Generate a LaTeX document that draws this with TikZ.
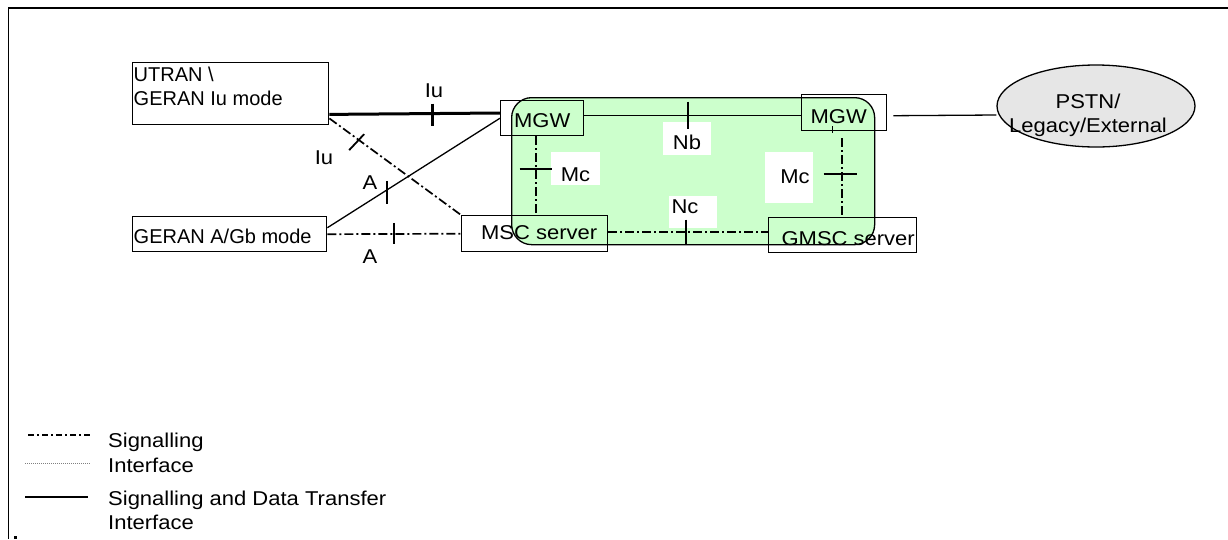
\documentclass[tikz,border=0pt]{standalone}
\usepackage{fontspec}
\setmainfont{Liberation Sans}[FakeStretch=1.1]
\newfontfamily\plainfont{Liberation Sans}
\usetikzlibrary{shapes.geometric,calc}
\definecolor{corefill}{HTML}{CCFFCC}
\definecolor{pstnfill}{HTML}{E6E6E6}
\tikzset{
  box/.style={draw, line width=1.4pt, rectangle, inner sep=0pt},
  sig/.style={line width=1.7pt, dash pattern=on 9pt off 3pt on 2pt off 3pt},
  legsig/.style={line width=1.1pt, dash pattern=on 6pt off 3pt on 2pt off 3pt},
  data/.style={line width=1.3pt},
  thickdata/.style={line width=3pt},
  tickmark/.style={line width=1.8pt},
  lbl/.style={inner sep=0pt},
  lblbox/.style={fill=white, inner sep=0pt},
}
\begin{document}
\begin{tikzpicture}[x=1pt,y=-1pt, every node/.append style={font=\fontsize{20}{24}\selectfont}]
\useasboundingbox (0,0) rectangle (1228,539);
% frame
\draw[line width=2.5pt] (8,8) -- (1228,8);
\draw[line width=1.5pt] (8.5,8) -- (8.5,539);
\fill (14,536) rectangle (17,538.5);
% core network area
\node[draw, line width=1.3pt, fill=corefill, rounded corners=20pt, minimum width=363pt, minimum height=147pt, anchor=north west] (core) at (511,97) {};
% boxes
\node[box, anchor=north west, minimum width=196pt, minimum height=62pt] (utran) at (132,62)
  {\parbox[c][62pt][t]{194pt}{\plainfont\raggedright\rule{0pt}{18.5pt}UTRAN \textbackslash\\GERAN Iu mode}};
\node[box, anchor=north west, minimum width=194pt, minimum height=35pt] (geran) at (132,216)
  {\parbox[c][35pt][t]{192pt}{\plainfont\rule{0pt}{27pt}GERAN A/Gb mode}};
\node[box, anchor=north west, minimum width=83pt, minimum height=35pt, text height=19pt, text depth=0pt] (mgw1) at (500,100) {MGW};
\node[box, anchor=north west, minimum width=85pt, minimum height=36pt, text height=22pt, text depth=0pt] (mgw2) at (801,94) {MGW\hspace*{11pt}};
\node[box, anchor=north west, minimum width=146pt, minimum height=36pt, text height=12pt, text depth=0pt] (msc) at (461,215) {\hspace*{9pt}MSC server};
\node[box, anchor=north west, minimum width=148pt, minimum height=35pt, text height=21pt, text depth=0pt] (gmsc) at (768,217) {\hspace*{11pt}GMSC server};
\node[ellipse, draw, line width=1.3pt, fill=pstnfill, minimum width=198pt, minimum height=82pt, inner sep=0pt] (pstn) at (1096,106)
  {\makebox[0pt]{\raisebox{-26pt}[0pt][0pt]{\begin{tabular}[b]{@{}c@{}}PSTN/\\Legacy/External\end{tabular}}\hspace*{16pt}}};
% interface label boxes
\node[lblbox, minimum width=48pt, minimum height=33pt, text height=21.4pt, text depth=0pt] (lNb) at (687,138.5) {Nb};
\node[lblbox, minimum width=49pt, minimum height=33pt, text height=25.4pt, text depth=0pt] (lMc1) at (575.5,168.5) {Mc};
\node[lblbox, minimum width=48pt, minimum height=51pt, text height=12.4pt, text depth=0pt] (lMc2) at (789,177.5) {\hspace*{12pt}Mc};
\node[lblbox, minimum width=48pt, minimum height=32pt, text height=14.4pt, text depth=12pt] (lNc) at (693,212) {Nc\hspace*{16pt}};
% free labels
\node[lbl] (lIu1) at (434,91) {Iu};
\node[lbl] (lIu2) at (324,158) {Iu};
\node[lbl] (lA1) at (370,183) {A};
\node[lbl] (lA2) at (370,257) {A};
% connectors
\draw[thickdata] ([yshift=11pt]utran.south east) -- coordinate[pos=0.605] (tIu1) ([yshift=-13pt]mgw1.north west);
\draw[sig] ([yshift=7pt]utran.south east) -- coordinate[pos=0.223] (tIu2) (msc.north west);
\draw[data] ([yshift=6.5pt]geran.east) -- coordinate[pos=0.345] (tA1) (mgw1.west);
\draw[sig] (geran.east) -- coordinate[pos=0.496] (tA2) (msc.west);
\draw[data] ([yshift=2.5pt]mgw1.east) -- coordinate[pos=0.48] (tNb) ([yshift=-3pt]mgw2.west);
\draw[data] ([xshift=6pt,yshift=-3pt]mgw2.east) -- ([yshift=-9pt]pstn.west);
\draw[sig] ([xshift=-6.5pt]mgw1.south) -- coordinate[pos=0.41] (tMc1) ([xshift=-6.5pt]mgw1.south |- msc.north);
\draw[sig] ([xshift=-2.5pt,yshift=-7pt]mgw2.south) -- coordinate[pos=0.45] (tMc2) ([xshift=-2.5pt]mgw2.south |- gmsc.north);
\draw[line width=1.2pt] ([xshift=-11.5pt,yshift=5pt]mgw2.south) -- ([xshift=-11.5pt,yshift=-2pt]mgw2.south);
\draw[sig] ([yshift=2pt]msc.east) -- coordinate[pos=0.485] (tNc) ([yshift=3.5pt]gmsc.west);
% ticks
\draw[line width=3pt] ([yshift=10pt]tIu1) -- ([yshift=-12pt]tIu1);
\draw[tickmark] ([shift={(-9.6pt,-10.2pt)}]tIu2) -- ([shift={(5.4pt,5.8pt)}]tIu2);
\draw[tickmark] ([yshift=9pt]tA1) -- ([yshift=-14pt]tA1);
\draw[tickmark] ([yshift=11pt]tA2) -- ([yshift=-10pt]tA2);
\draw[tickmark] ([yshift=14pt]tNb) -- ([yshift=-13pt]tNb);
\draw[tickmark] ([xshift=-16pt]tMc1) -- ([xshift=16pt]tMc1);
\draw[tickmark] ([xshift=-18pt]tMc2) -- ([xshift=15pt]tMc2);
\draw[tickmark] ([yshift=12pt]tNc) -- ([yshift=-12pt]tNc);
% legend
\coordinate (lg1a) at (28,435); \coordinate (lg1b) at (90,435);
\coordinate (lg2a) at (25,463); \coordinate (lg2b) at (90,463);
\coordinate (lg3a) at (25,497); \coordinate (lg3b) at (88,497);
\draw[legsig] (lg1a) -- (lg1b);
\draw[gray, line width=0.6pt, dash pattern=on 1pt off 1pt] (lg2a) -- (lg2b);
\draw[line width=2.5pt] (lg3a) -- (lg3b);
\node[lbl, anchor=base west] (lgt1) at (108,447) {Signalling};
\node[lbl, anchor=base west] (lgt2) at (108,472) {Interface};
\node[lbl, anchor=base west] (lgt3) at (108,505) {Signalling and Data Transfer};
\node[lbl, anchor=base west] (lgt4) at (108,529) {Interface};
\end{tikzpicture}
\end{document}
